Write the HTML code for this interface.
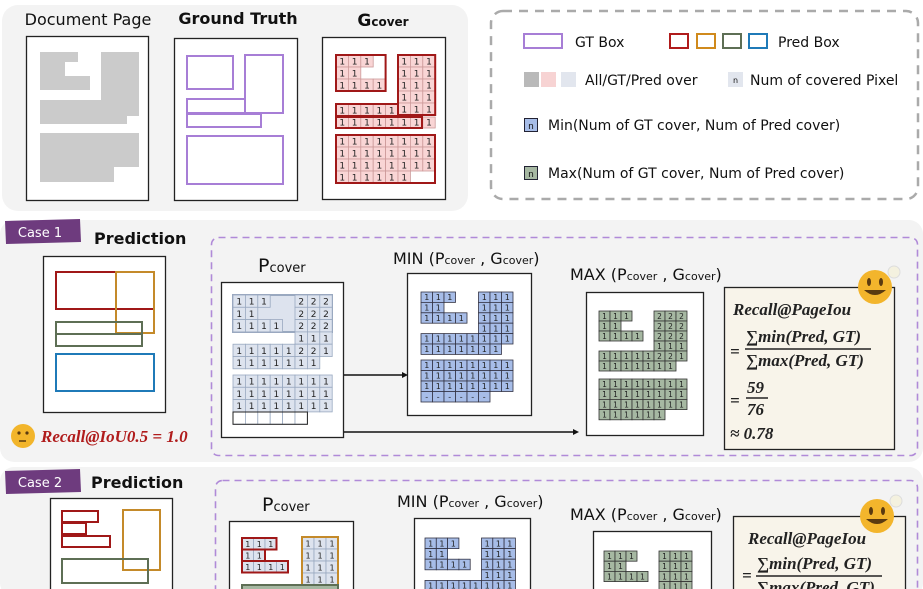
<!DOCTYPE html>
<html><head><meta charset="utf-8"><style>
html,body{margin:0;padding:0;background:#fff;width:923px;height:589px;overflow:hidden}
svg{display:block}
.t{font-family:"DejaVu Sans","Liberation Sans",sans-serif;fill:#111}
.f{font-family:"Liberation Serif",serif;font-weight:bold;font-style:italic;fill:#222}
</style></head><body>
<svg id="s" width="923" height="589" viewBox="0 0 923 589" xmlns="http://www.w3.org/2000/svg">
<rect x="2" y="5" width="466" height="206" rx="16" fill="#f3f3f3"/>
<rect x="0" y="220" width="923" height="242" rx="14" fill="#f3f3f3"/>
<rect x="0" y="467" width="923" height="130" rx="14" fill="#f3f3f3"/>

<text class="t" x="88" y="25" font-size="16" text-anchor="middle">Document Page</text>
<text class="t" x="238" y="24" font-size="16" font-weight="bold" text-anchor="middle">Ground Truth</text>
<text class="t" x="383" y="26" font-size="17" font-weight="bold" text-anchor="middle">G<tspan font-size="12">cover</tspan></text>

<rect x="26.5" y="36.5" width="122" height="164" fill="#fff" stroke="#222" stroke-width="1.3"/>
<path d="M40 52h38v10h-13v14h25v14h-50z M101 52h38v64h-12v8h-87v-24h61z M40 133h99v34h-25v15h-74z" fill="#cbcbcb"/>
<rect x="174.5" y="38.5" width="123" height="162" fill="#fff" stroke="#222" stroke-width="1.3"/>
<g fill="none" stroke="#a77ed6" stroke-width="2">
<rect x="187" y="56" width="46" height="33"/><rect x="245" y="55" width="38" height="58"/>
<rect x="187" y="99" width="58" height="14"/><rect x="187" y="114" width="74" height="13"/>
<rect x="187" y="136" width="96" height="48"/></g>
<rect x="322.5" y="37.5" width="123" height="162" fill="#fff" stroke="#222" stroke-width="1.3"/>

<rect x="491" y="11" width="427" height="188" rx="12" fill="none" stroke="#aaa" stroke-width="2.5" stroke-dasharray="9,7"/>
<rect x="524" y="34" width="38" height="14" fill="none" stroke="#a77ed6" stroke-width="2"/>
<text class="t" x="575" y="47" font-size="14">GT Box</text>
<rect x="670" y="34" width="18" height="14" fill="none" stroke="#b01c1c" stroke-width="2"/>
<rect x="697" y="34" width="18" height="14" fill="none" stroke="#d08a1c" stroke-width="2"/>
<rect x="723" y="34" width="18" height="14" fill="none" stroke="#5e6f55" stroke-width="2"/>
<rect x="749" y="34" width="18" height="14" fill="none" stroke="#1f7ab8" stroke-width="2"/>
<text class="t" x="778" y="47" font-size="14">Pred Box</text>
<rect x="524" y="72" width="15" height="15" fill="#b9b9b9"/><rect x="541" y="72" width="15" height="15" fill="#f7d3d3"/><rect x="561" y="72" width="15" height="15" fill="#e2e6ee"/>
<text class="t" x="585" y="85" font-size="14">All/GT/Pred over</text>
<rect x="728" y="72" width="15" height="15" fill="#e2e6ee"/><text class="t" x="735.5" y="83" font-size="8" text-anchor="middle">n</text>
<text class="t" x="750" y="85" font-size="14">Num of covered Pixel</text>
<rect x="524.5" y="118.5" width="13" height="13" fill="#a7bde8" stroke="#223" /><text class="t" x="531" y="129" font-size="9" text-anchor="middle">n</text>
<text class="t" x="548" y="130" font-size="14">Min(Num of GT cover, Num of Pred cover)</text>
<rect x="524.5" y="166.5" width="13" height="13" fill="#a6b8a2" stroke="#223"/><text class="t" x="531" y="177" font-size="9" text-anchor="middle">n</text>
<text class="t" x="548" y="178" font-size="14">Max(Num of GT cover, Num of Pred cover)</text>

<path d="M5 221 L80 219 L81 242 L6 244Z" fill="#6e3b7e"/>
<text class="t" x="40" y="237" font-size="13" style="fill:#fff" text-anchor="middle">Case 1</text>
<text class="t" x="94" y="244" font-size="16" font-weight="bold">Prediction</text>
<rect x="43.5" y="256.5" width="122" height="156" fill="#fff" stroke="#222" stroke-width="1.3"/>
<g fill="none" stroke-width="2">
<rect x="56" y="272" width="98" height="37" stroke="#a01818"/>
<rect x="116" y="272" width="38" height="61" stroke="#c48a2a"/>
<rect x="56" y="322" width="86" height="12" stroke="#5e6f55"/><rect x="56" y="334" width="86" height="12" stroke="#5e6f55"/>
<rect x="56" y="354" width="98" height="37" stroke="#1f7ab8"/></g>
<circle cx="23" cy="436" r="12" fill="#f2b52b"/><circle cx="19" cy="433" r="1.6" fill="#5a3a10"/><circle cx="27" cy="433" r="1.6" fill="#5a3a10"/><path d="M19 441h7" stroke="#5a3a10" stroke-width="1.5"/>
<text class="f" x="41" y="442" font-size="17" style="fill:#b01c1c">Recall@IoU0.5 = 1.0</text>

<rect x="211.5" y="237.5" width="706" height="218" rx="7" fill="none" stroke="#b08ad8" stroke-width="1.6" stroke-dasharray="7,5"/>
<text class="t" x="258" y="272" font-size="19">P<tspan font-size="13">cover</tspan></text>
<rect x="221.5" y="282.5" width="122" height="155" fill="#fff" stroke="#222" stroke-width="1.3"/>
<text class="t" x="393" y="264" font-size="16">MIN (P<tspan font-size="11">cover</tspan> , G<tspan font-size="11">cover</tspan>)</text>
<rect x="407.5" y="273.5" width="124" height="142" fill="#fff" stroke="#222" stroke-width="1.3"/>
<text class="t" x="570" y="280" font-size="16">MAX (P<tspan font-size="11">cover</tspan> , G<tspan font-size="11">cover</tspan>)</text>
<rect x="586.5" y="292.5" width="117" height="143" fill="#fff" stroke="#222" stroke-width="1.3"/>
<path d="M344 375H404" stroke="#111" stroke-width="1.6"/><path d="M408 375l-6-3v6z" fill="#111"/>
<path d="M344 432H575" stroke="#111" stroke-width="1.6"/><path d="M579 432l-6-3v6z" fill="#111"/>
<rect x="724.5" y="287.5" width="170" height="162" fill="#f8f4ea" stroke="#222" stroke-width="1.3"/>
<text class="f" x="733" y="315" font-size="17">Recall@PageIou</text>
<text class="f" x="730" y="357" font-size="17">=</text>
<text class="f" x="746" y="342" font-size="17">∑min(Pred, GT)</text>
<path d="M745 349H871" stroke="#222" stroke-width="1.6"/>
<text class="f" x="746" y="366" font-size="17">∑max(Pred, GT)</text>
<text class="f" x="730" y="406" font-size="17">=</text>
<text class="f" x="747" y="393" font-size="17">59</text><path d="M746 398H768" stroke="#222" stroke-width="1.6"/>
<text class="f" x="747" y="415" font-size="17">76</text>
<text class="f" x="730" y="439" font-size="17">≈ 0.78</text>
<circle cx="875" cy="287" r="17" fill="#f3b52c"/><ellipse cx="869" cy="282" rx="2" ry="4" fill="#5a3a10"/><ellipse cx="881" cy="282" rx="2" ry="4" fill="#5a3a10"/><path d="M864 290q11 10 22 0z" fill="#5a3a10"/>
<circle cx="894" cy="272" r="6" fill="#f4f1df" stroke="#ddd"/>

<path d="M5 471 L80 469 L81 492 L6 494Z" fill="#6e3b7e"/>
<text class="t" x="40" y="487" font-size="13" style="fill:#fff" text-anchor="middle">Case 2</text>
<text class="t" x="91" y="488" font-size="16" font-weight="bold">Prediction</text>
<rect x="50.5" y="498.5" width="122" height="100" fill="#fff" stroke="#222" stroke-width="1.3"/>
<g fill="none" stroke-width="2">
<rect x="62" y="511" width="36" height="11" stroke="#a01818"/><rect x="62" y="523" width="24" height="11" stroke="#a01818"/><rect x="62" y="536" width="48" height="11" stroke="#a01818"/>
<rect x="123" y="510" width="37" height="60" stroke="#c48a2a"/>
<rect x="62" y="559" width="86" height="24" stroke="#5e6f55"/></g>
<rect x="215.5" y="480.5" width="702" height="130" rx="7" fill="none" stroke="#b08ad8" stroke-width="1.6" stroke-dasharray="7,5"/>
<text class="t" x="262" y="511" font-size="19">P<tspan font-size="13">cover</tspan></text>
<rect x="229.5" y="521.5" width="124" height="80" fill="#fff" stroke="#222" stroke-width="1.3"/>
<text class="t" x="397" y="507" font-size="16">MIN (P<tspan font-size="11">cover</tspan> , G<tspan font-size="11">cover</tspan>)</text>
<rect x="414.5" y="518.5" width="116" height="80" fill="#fff" stroke="#222" stroke-width="1.3"/>
<text class="t" x="570" y="520" font-size="16">MAX (P<tspan font-size="11">cover</tspan> , G<tspan font-size="11">cover</tspan>)</text>
<rect x="593.5" y="531.5" width="118" height="70" fill="#fff" stroke="#222" stroke-width="1.3"/>
<rect x="733.5" y="516.5" width="172" height="90" fill="#f8f4ea" stroke="#222" stroke-width="1.3"/>
<text class="f" x="748" y="544" font-size="17">Recall@PageIou</text>
<text class="f" x="742" y="581" font-size="17">=</text>
<text class="f" x="757" y="569" font-size="17">∑min(Pred, GT)</text>
<path d="M756 576H882" stroke="#222" stroke-width="1.6"/>
<text class="f" x="757" y="593" font-size="17">∑max(Pred, GT)</text>
<circle cx="877" cy="516" r="17" fill="#f3b52c"/><ellipse cx="871" cy="511" rx="2" ry="4" fill="#5a3a10"/><ellipse cx="883" cy="511" rx="2" ry="4" fill="#5a3a10"/><path d="M866 519q11 10 22 0z" fill="#5a3a10"/>
<circle cx="896" cy="501" r="6" fill="#f4f1df" stroke="#ddd"/>
<g id="g"></g>
</svg>
<script>
var G=document.getElementById('g'),NS='http://www.w3.org/2000/svg';
function el(t,a,txt){var e=document.createElementNS(NS,t);for(var k in a)e.setAttribute(k,a[k]);if(txt)e.textContent=txt;G.appendChild(e);}
function grid(x,y,cw,ch,rows,fill,stroke,fs){rows.forEach(function(r,i){for(var j=0;j<r.length;j++){var c=r[j];if(c==' ')continue;
var f=c=='e'?'#fff':fill;el('rect',{x:x+j*cw,y:y+i*ch,width:cw,height:ch,fill:f,stroke:stroke,'stroke-width':0.8});
if(c!='e')el('text',{x:x+j*cw+cw/2,y:y+i*ch+ch*0.78,'font-size':fs,'text-anchor':'middle','font-family':'DejaVu Sans,sans-serif',fill:'#222'},c);}});}
function box(x,y,w,h,c,sw){el('rect',{x:x,y:y,width:w,height:h,fill:'none',stroke:c,'stroke-width':sw||2});}
var pk='#f9d5d5',pr='#c99';
grid(336,55,12.4,12,['111 ','11  ','1111'],pk,pr,9);
grid(398,55,12.4,12,['111','111','111','111','111'],pk,pr,9);
grid(336,104,12.4,12,['11111'],pk,pr,9);
grid(336,117,12.4,11,['11111111'],pk,pr,9);
grid(336,135,12.4,12,['11111111','11111111','11111111','111111  '],pk,pr,9);
box(336,55,49.6,36,'#a01818');box(398,55,37.2,60,'#a01818');box(336,104,62,12,'#a01818');box(336,117,86,11,'#a01818');box(336,135,99,48,'#a01818');
var lb='#dde3ee',bs='#9aa9c0';
el('rect',{x:233,y:295,width:99,height:37,fill:lb,stroke:bs,'stroke-width':2});
grid(233,295,12.4,12.3,['111  222','11   222','1111 222','     111','11111221','1111111 '],lb,bs,9);
grid(233,375,12.4,12.3,['11111111','11111111','11111111','eeeeee  '],lb,bs,9);
el('rect',{x:233,y:412,width:74.4,height:12.3,fill:'none',stroke:'#222','stroke-width':1});
grid(421,292,11.5,10.4,['111  111','11   111','1111 111','     111','11111111','1111111 '],'#a7bde8','#334',8);
grid(421,360,11.5,10.5,['11111111','11111111','11111111','------  '],'#a7bde8','#334',8);
grid(599,311,11,10,['111  222','11   222','1111 222','     111','11111221','1111111 '],'#a6b8a2','#333',7.5);
grid(599,379,11,10.2,['11111111','11111111','11111111','111111  '],'#a6b8a2','#333',7.5);
grid(242,538,11.5,11.5,['111','11 ','1111'],lb,bs,8);
box(242,538,34.5,11.5,'#a01818');box(242,549.5,23,11.5,'#a01818');box(242,561,46,11.5,'#a01818');
grid(302,537,12,12,['111','111','111','111','111'],lb,bs,8);box(302,537,36,60,'#c48a2a');
el('rect',{x:242,y:585,width:96,height:12,fill:'#a6b8a2',stroke:'#5e6f55','stroke-width':2});
grid(425,538,11.3,10.6,['111  111','11   111','1111 111','     111','11111111'],'#a7bde8','#334',8);
grid(604,551,11,10.2,['111  111','11   111','1111 111','     111'],'#a6b8a2','#333',7.5);
</script>
</body></html>
